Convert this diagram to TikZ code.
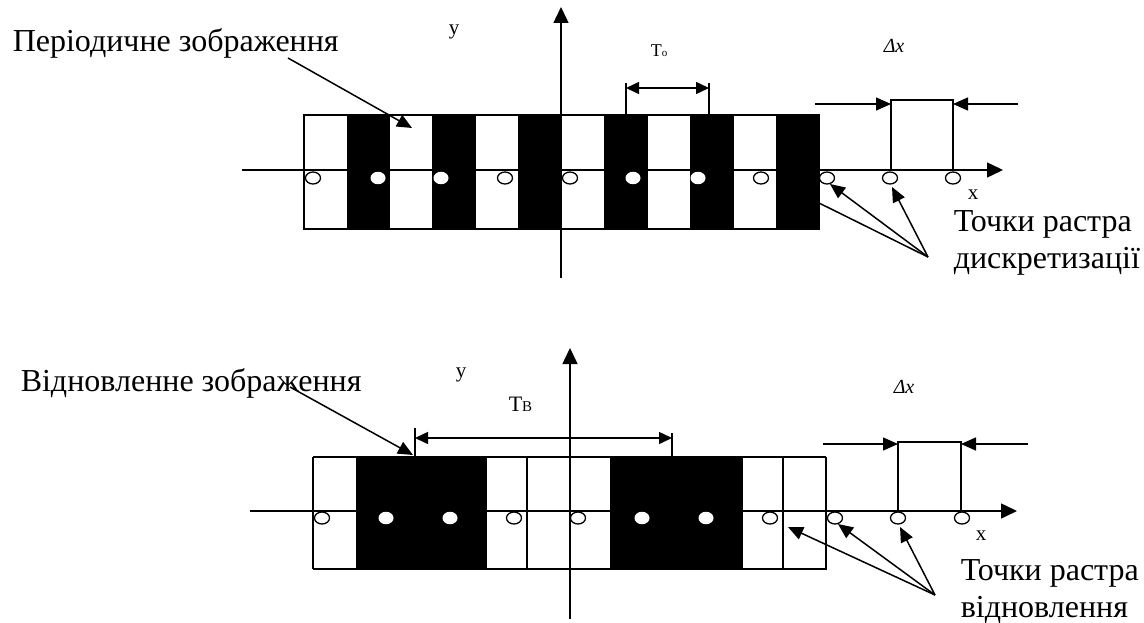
\documentclass[tikz,border=0pt]{standalone}
\usepackage{fontspec}
\setmainfont{Liberation Serif}
\usetikzlibrary{arrows.meta,shapes.geometric}
\begin{document}
\begin{tikzpicture}[x=1pt,y=-1pt,line width=1.5pt,
  tipend/.style={-{Triangle[length=15pt,width=13pt]}},
  tipboth/.style={{Triangle[length=13pt,width=12pt]}-{Triangle[length=13pt,width=12pt]}},
  axisline/.style={-{Triangle[length=16pt,width=15pt]}},
  thinline/.style={line width=0.7pt},
  doto/.style={ellipse,draw=black,fill=white,line width=1.3pt,minimum width=15pt,minimum height=12pt,inner sep=0pt},
  dotw/.style={ellipse,draw=none,fill=white,minimum width=15pt,minimum height=12.5pt,inner sep=0pt},
  bigtext/.style={font=\fontsize{32}{38}\selectfont,inner sep=0pt,anchor=base west},
  smalltext/.style={font=\fontsize{21}{24}\selectfont,inner sep=0pt,anchor=base west},
  deltatext/.style={font=\fontsize{20}{24}\selectfont\itshape,inner sep=0pt,anchor=base west}
]
\useasboundingbox (0,0) rectangle (1144,623);

% ---------------- TOP DIAGRAM ----------------
\foreach \i in {0,...,11}{
  \pgfmathsetmacro{\xa}{304+42.917*\i}
  \pgfmathsetmacro{\xb}{304+42.917*(\i+1)}
  \ifodd\i
    \filldraw[thinline,fill=black,draw=black] (\xa,115) rectangle (\xb,229);
  \else
    \draw[thinline] (\xa,115) rectangle (\xb,229);
  \fi
}
\draw (304,115) rectangle (819,229);

% axes
\coordinate (txa) at (242,170);
\coordinate (txb) at (1003,170);
\coordinate (tya) at (561,278);
\coordinate (tyb) at (561,7);
\draw[axisline] (txa) -- (txb);
\draw[axisline] (tya) -- (tyb);
\node[smalltext] (tylab) at (448,35) {y};
\node[smalltext] (txlab) at (967,200) {x};

% dots
\foreach \x/\s [count=\n] in {313/o,378/w,441/w,505/o,570/o,633/w,698/w,761/o,827/o,890/o,953/o}{
  \node[dot\s] (t\n) at (\x,178) {};
}

% T0 bracket
\coordinate (t0a) at (626,83);
\coordinate (t0b) at (626,115);
\coordinate (t0c) at (709,83);
\coordinate (t0d) at (709,115);
\coordinate (t0l) at (626,88);
\coordinate (t0r) at (709,88);
\draw (t0a) -- (t0b);
\draw (t0c) -- (t0d);
\draw[tipboth] (t0l) -- (t0r);
\node[inner sep=0pt,anchor=base west] (T0) at (650,57) {\fontsize{18}{20}\selectfont T\fontsize{11}{12}\selectfont o};

% Delta x top
\coordinate (tda) at (891,170);
\coordinate (tdb) at (891,100);
\coordinate (tdc) at (953,100);
\coordinate (tdd) at (953,170);
\draw (tda) -- (tdb) -- (tdc) -- (tdd);
\coordinate (tdl0) at (815,104);
\coordinate (tdl1) at (891,104);
\coordinate (tdr0) at (1018,104);
\coordinate (tdr1) at (953,104);
\draw[tipend] (tdl0) -- (tdl1);
\draw[tipend] (tdr0) -- (tdr1);
\node[deltatext] (tdx) at (883,53) {Δx};

% texts and leaders
\node[bigtext] (ptxt) at (12,52) {Періодичне зображення};
\coordinate (pl0) at (288,58);
\coordinate (pl1) at (412,128);
\draw[tipend] (pl0) -- (pl1);

\node[bigtext] (tp1) at (953,232) {Точки растра};
\node[bigtext] (tp2) at (953,268) {дискретизації};
\coordinate (tpc) at (928,257);
\coordinate (tpe1) at (830,184);
\coordinate (tpe2) at (892,187);
\coordinate (tpe3) at (819,203);
\draw[tipend] (tpc) -- (tpe1);
\draw[tipend] (tpc) -- (tpe2);
\draw (tpc) -- (tpe3);

% ---------------- BOTTOM DIAGRAM ----------------
\foreach \xa/\xb/\f in {313/356/0,356/486/1,486/527/0,527/611/0,611/742/1,742/783/0,783/826/0}{
  \ifnum\f=1
    \filldraw[thinline,fill=black,draw=black] (\xa,457) rectangle (\xb,569);
  \else
    \draw[thinline] (\xa,457) rectangle (\xb,569);
  \fi
}
\draw (313,457) -- (826,457);
\draw (313,569) -- (826,569);
\draw (313,457) -- (313,569);
\draw (826,457) -- (826,569);
\draw (527,457) -- (527,569);
\draw (611,457) -- (611,569);
\draw (783,457) -- (783,569);

\coordinate (bxa) at (250,511);
\coordinate (bxb) at (1017,511);
\coordinate (bya) at (570,619);
\coordinate (byb) at (570,348);
\draw[axisline] (bxa) -- (bxb);
\draw[axisline] (bya) -- (byb);
\node[smalltext] (bylab) at (455,377) {y};
\node[smalltext] (bxlab) at (975,540) {x};

\foreach \x/\s [count=\n] in {322/o,386/w,450/w,514/o,578/o,642/w,706/w,770/o,835/o,898/o,962/o}{
  \node[dot\s] (b\n) at (\x,518) {};
}

% TB bracket
\coordinate (tba) at (415,428);
\coordinate (tbb) at (415,457);
\coordinate (tbc) at (672,433);
\coordinate (tbd) at (672,457);
\coordinate (tbl) at (415,438);
\coordinate (tbr) at (672,438);
\draw (tba) -- (tbb);
\draw (tbc) -- (tbd);
\draw[tipboth] (tbl) -- (tbr);
\node[inner sep=0pt,anchor=base west] (TB) at (508,411) {\fontsize{22}{24}\selectfont T\fontsize{15}{16}\selectfont В};

% Delta x bottom
\coordinate (bda) at (898,511);
\coordinate (bdb) at (898,442);
\coordinate (bdc) at (961,442);
\coordinate (bdd) at (961,511);
\draw (bda) -- (bdb) -- (bdc) -- (bdd);
\coordinate (bdl0) at (823,444);
\coordinate (bdl1) at (898,444);
\coordinate (bdr0) at (1028,444);
\coordinate (bdr1) at (961,444);
\draw[tipend] (bdl0) -- (bdl1);
\draw[tipend] (bdr0) -- (bdr1);
\node[deltatext] (bdx) at (893,393) {Δx};

\node[bigtext] (vtxt) at (20,391) {Відновленне зображення};
\coordinate (vl0) at (290,387);
\coordinate (vl1) at (413,455);
\draw[tipend] (vl0) -- (vl1);

\node[bigtext] (bp1) at (960,580) {Точки растра};
\node[bigtext] (bp2) at (960,617) {відновлення};
\coordinate (bpc) at (935,595);
\coordinate (bpe1) at (788,527);
\coordinate (bpe2) at (838,524);
\coordinate (bpe3) at (900,527);
\draw[tipend] (bpc) -- (bpe1);
\draw[tipend] (bpc) -- (bpe2);
\draw[tipend] (bpc) -- (bpe3);
\end{tikzpicture}
\end{document}
